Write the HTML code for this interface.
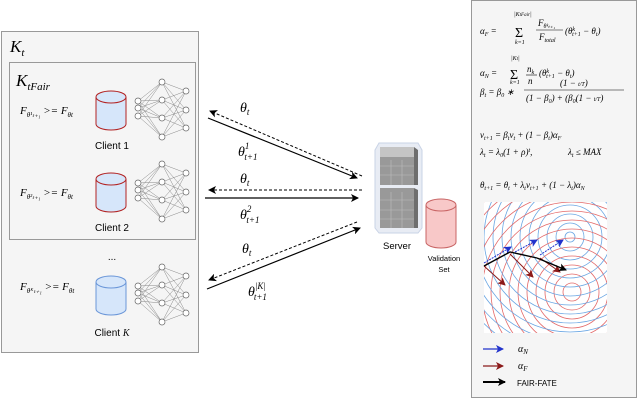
<!DOCTYPE html>
<html><head><meta charset="utf-8"><style>
html,body{margin:0;padding:0;background:#fff;width:640px;height:400px;overflow:hidden;position:relative;}
svg{display:block;position:absolute;left:0;top:0;font-family:"Liberation Sans",sans-serif;overflow:hidden;}
.m{font-family:"Liberation Serif",serif;font-style:italic;}
</style></head><body>
<svg id="s" width="640" height="400" viewBox="0 0 640 400" xmlns="http://www.w3.org/2000/svg">
<defs>
<marker id="ah" markerWidth="8" markerHeight="8" refX="7" refY="4" orient="auto" markerUnits="userSpaceOnUse"><path d="M0,0 L8,4 L0,8 L2,4z" fill="#000"/></marker>
<marker id="ab" markerWidth="8" markerHeight="8" refX="7" refY="4" orient="auto" markerUnits="userSpaceOnUse"><path d="M0,0 L8,4 L0,8 L2,4z" fill="#2233cc"/></marker>
<marker id="ar" markerWidth="8" markerHeight="8" refX="7" refY="4" orient="auto" markerUnits="userSpaceOnUse"><path d="M0,0 L8,4 L0,8 L2,4z" fill="#8b1a1a"/></marker>
<clipPath id="pc"><rect x="484" y="202" width="123" height="131"/></clipPath>
</defs>
<rect x="1.5" y="31.5" width="197" height="321" fill="#f5f5f5" stroke="#999"/>
<rect x="9.5" y="62.5" width="186" height="177" fill="#f5f5f5" stroke="#999"/>
<text x="10" y="52" class="m" font-size="17">K<tspan font-size="11" dy="4">t</tspan></text>
<text x="16" y="86" class="m" font-size="17">K<tspan font-size="11" dy="4">tFair</tspan></text>
<g class="m" font-size="11">
<text x="20" y="114">F<tspan font-size="7" dy="3">θ¹ₜ₊₁</tspan><tspan dy="-3"> &gt;= F</tspan><tspan font-size="7" dy="3">θt</tspan></text>
<text x="20" y="196">F<tspan font-size="7" dy="3">θ²ₜ₊₁</tspan><tspan dy="-3"> &gt;= F</tspan><tspan font-size="7" dy="3">θt</tspan></text>
<text x="20" y="290">F<tspan font-size="7" dy="3">θᴷₜ₊₁</tspan><tspan dy="-3"> &gt;= F</tspan><tspan font-size="7" dy="3">θt</tspan></text>
</g>
<g id="cyls"></g>
<g font-size="10" fill="#000" text-anchor="middle">
<text x="112" y="149">Client 1</text>
<text x="112" y="231">Client 2</text>
<text x="112" y="260">...</text>
<text x="112" y="336">Client <tspan class="m">K</tspan></text>
</g>
<g id="nets" stroke="#888" stroke-width="0.5"></g>
<g stroke="#000" stroke-width="1" fill="none">
<line x1="362" y1="176" x2="210" y2="111" stroke-dasharray="3,2" marker-end="url(#ah)"/>
<line x1="208" y1="118" x2="357" y2="178" stroke-width="1.2" marker-end="url(#ah)"/>
<line x1="362" y1="190" x2="209" y2="190" stroke-dasharray="3,2" marker-end="url(#ah)"/>
<line x1="205" y1="198" x2="358" y2="198" stroke-width="1.2" marker-end="url(#ah)"/>
<line x1="207" y1="289" x2="360" y2="228" stroke-width="1.2" marker-end="url(#ah)"/>
<line x1="357" y1="222" x2="209" y2="280" stroke-dasharray="3,2" marker-end="url(#ah)"/>
</g>
<g class="m" font-size="14">
<text x="240" y="112">θ<tspan font-size="9" dy="3">t</tspan></text>
<text x="238" y="156">θ<tspan font-size="9" dy="-7">1</tspan><tspan font-size="9" dx="-5" dy="11">t+1</tspan></text>
<text x="240" y="183">θ<tspan font-size="9" dy="3">t</tspan></text>
<text x="240" y="219">θ<tspan font-size="9" dy="-7">2</tspan><tspan font-size="9" dx="-5" dy="11">t+1</tspan></text>
<text x="242" y="253">θ<tspan font-size="9" dy="3">t</tspan></text>
<text x="248" y="296">θ<tspan font-size="9" dy="-7">|K|</tspan><tspan font-size="9" dx="-12" dy="11">t+1</tspan></text>
</g>
<path d="M379,143 L418,143 L422,150 L422,228 L418,233 L379,233 L375,228 L375,150z" fill="#e8ecf4" stroke="#c9d3e6"/>
<rect x="380" y="147" width="34" height="38" fill="#999"/>
<rect x="380" y="147" width="34" height="10" fill="#c4c4c4"/>
<rect x="380" y="188" width="34" height="40" fill="#999"/>
<path d="M414,147 L418,150 L418,185 L414,185z M414,188 L418,190 L418,228 L414,228z" fill="#6e6e6e"/>
<g stroke="#bdbdbd" stroke-width="0.6">
<line x1="380" y1="166" x2="414" y2="166"/><line x1="380" y1="175" x2="414" y2="175"/>
<line x1="391" y1="160" x2="391" y2="185"/><line x1="402" y1="160" x2="402" y2="185"/>
<line x1="380" y1="200" x2="414" y2="200"/><line x1="380" y1="210" x2="414" y2="210"/><line x1="380" y1="219" x2="414" y2="219"/>
<line x1="391" y1="192" x2="391" y2="228"/><line x1="402" y1="192" x2="402" y2="228"/>
</g>
<text x="397" y="249" font-size="9.5" text-anchor="middle">Server</text>
<path d="M426,205 L426,242 A15,6 0 0 0 456,242 L456,205" fill="#f8c8c8" stroke="#c86464"/>
<ellipse cx="441" cy="205" rx="15" ry="6" fill="#f8c8c8" stroke="#c86464"/>
<text x="444" y="261" font-size="7.5" text-anchor="middle">Validation</text>
<text x="444" y="272" font-size="7.5" text-anchor="middle">Set</text>
<rect x="471.5" y="0.5" width="165" height="397" fill="#f5f5f5" stroke="#999"/>
<g class="m" font-size="9">
<text x="480" y="34">α<tspan font-size="6" dy="2">F</tspan><tspan dy="-2"> =</tspan></text>
<text x="515" y="37" font-size="14" font-style="normal">Σ</text>
<text x="514" y="16" font-size="6">|K<tspan font-size="5">tFair</tspan>|</text>
<text x="515" y="44" font-size="6">k=1</text>
<text x="538" y="26">F<tspan font-size="6" dy="2">θᵏₜ₊₁</tspan></text>
<line x1="536" y1="30" x2="563" y2="30" stroke="#000" stroke-width="0.6"/>
<text x="539" y="40">F<tspan font-size="6" dy="2">total</tspan></text>
<text x="565" y="34">(θ<tspan font-size="6" dy="-3">k</tspan><tspan font-size="6" dx="-3" dy="5">t+1</tspan><tspan dy="-2"> − θ</tspan><tspan font-size="6" dy="2">t</tspan><tspan dy="-2">)</tspan></text>
<text x="480" y="76">α<tspan font-size="6" dy="2">N</tspan><tspan dy="-2"> =</tspan></text>
<text x="510" y="79" font-size="14" font-style="normal">Σ</text>
<text x="511" y="60" font-size="6">|K<tspan font-size="5">t</tspan>|</text>
<text x="510" y="84" font-size="6">k=1</text>
<text x="527" y="72">n<tspan font-size="6" dy="2">k</tspan></text>
<line x1="526" y1="75" x2="537" y2="75" stroke="#000" stroke-width="0.6"/>
<text x="528" y="84">n</text>
<text x="539" y="76">(θ<tspan font-size="6" dy="-3">k</tspan><tspan font-size="6" dx="-3" dy="5">t+1</tspan><tspan dy="-2"> − θ</tspan><tspan font-size="6" dy="2">t</tspan><tspan dy="-2">)</tspan></text>
<text x="480" y="95">β<tspan font-size="6" dy="2">t</tspan><tspan dy="-2"> = β</tspan><tspan font-size="6" dy="2">0</tspan><tspan dy="-2"> ∗</tspan></text>
<text x="560" y="86">(1 − <tspan font-size="6">t/T</tspan>)</text>
<line x1="524" y1="90" x2="624" y2="90" stroke="#000" stroke-width="0.6"/>
<text x="526" y="101">(1 − β<tspan font-size="6" dy="2">0</tspan><tspan dy="-2">) + (β</tspan><tspan font-size="6" dy="2">0</tspan><tspan dy="-2">(1 − </tspan><tspan font-size="6">t/T</tspan>)</text>
<text x="480" y="138">v<tspan font-size="6" dy="2">t+1</tspan><tspan dy="-2"> = β</tspan><tspan font-size="6" dy="2">t</tspan><tspan dy="-2">v</tspan><tspan font-size="6" dy="2">t</tspan><tspan dy="-2"> + (1 − β</tspan><tspan font-size="6" dy="2">t</tspan><tspan dy="-2">)α</tspan><tspan font-size="6" dy="2">F</tspan></text>
<text x="480" y="155">λ<tspan font-size="6" dy="2">t</tspan><tspan dy="-2"> = λ</tspan><tspan font-size="6" dy="2">0</tspan><tspan dy="-2">(1 + ρ)</tspan><tspan font-size="6" dy="-3">t</tspan><tspan dy="3">,</tspan></text>
<text x="568" y="155">λ<tspan font-size="6" dy="2">t</tspan><tspan dy="-2"> ≤ MAX</tspan></text>
<text x="480" y="188">θ<tspan font-size="6" dy="2">t+1</tspan><tspan dy="-2"> = θ</tspan><tspan font-size="6" dy="2">t</tspan><tspan dy="-2"> + λ</tspan><tspan font-size="6" dy="2">t</tspan><tspan dy="-2">v</tspan><tspan font-size="6" dy="2">t+1</tspan><tspan dy="-2"> + (1 − λ</tspan><tspan font-size="6" dy="2">t</tspan><tspan dy="-2">)α</tspan><tspan font-size="6" dy="2">N</tspan></text>
</g>
<rect x="484" y="202" width="123" height="131" fill="#fff"/>
<g id="rings" clip-path="url(#pc)" fill="none" stroke-width="0.8"></g>
<g fill="none" stroke-width="1">
<line x1="484" y1="263" x2="511" y2="247" stroke="#2233cc" stroke-dasharray="2,1" marker-end="url(#ab)"/>
<line x1="515" y1="252" x2="537" y2="240" stroke="#2233cc" stroke-dasharray="2,1" marker-end="url(#ab)"/>
<line x1="540" y1="255" x2="563" y2="240" stroke="#2233cc" stroke-dasharray="2,1" marker-end="url(#ab)"/>
<line x1="484" y1="266" x2="505" y2="285" stroke="#8b1a1a" marker-end="url(#ar)"/>
<line x1="510" y1="254" x2="533" y2="277" stroke="#8b1a1a" marker-end="url(#ar)"/>
<line x1="540" y1="258" x2="560" y2="272" stroke="#8b1a1a" marker-end="url(#ar)"/>
<polyline points="484,266 510,252 537,258" stroke="#000" stroke-width="1.4"/>
<line x1="537" y1="258" x2="566" y2="270" stroke="#000" stroke-width="1.4" marker-end="url(#ah)"/>
<line x1="483" y1="349" x2="503" y2="349" stroke="#2233cc" stroke-width="1.2" marker-end="url(#ab)"/>
<line x1="483" y1="366" x2="503" y2="366" stroke="#8b1a1a" stroke-width="1.2" marker-end="url(#ar)"/>
<line x1="483" y1="382" x2="505" y2="382" stroke="#000" stroke-width="2" marker-end="url(#ah)"/>
</g>
<text x="518" y="352" class="m" font-size="10">α<tspan font-size="7" dy="2">N</tspan></text>
<text x="518" y="369" class="m" font-size="10">α<tspan font-size="7" dy="2">F</tspan></text>
<text x="517" y="386" font-size="8">FAIR-FATE</text>
</svg>
<script>
var NS="http://www.w3.org/2000/svg";
function el(p,t,a){var e=document.createElementNS(NS,t);for(var k in a)e.setAttribute(k,a[k]);p.appendChild(e);return e;}
var cy=document.getElementById("cyls");
[[90,"#b22222"],[172,"#b22222"],[275,"#6a96d8"]].forEach(function(c){
 var y=c[0];
 el(cy,"path",{d:"M96,"+(y+7)+" L96,"+(y+34)+" A15,6 0 0 0 126,"+(y+34)+" L126,"+(y+7),fill:"#d6e6fa",stroke:c[1]});
 el(cy,"ellipse",{cx:111,cy:y+7,rx:15,ry:6,fill:"#d6e6fa",stroke:c[1]});
});
var nets=document.getElementById("nets");
[0,82,185].forEach(function(o){
 var L=[[[138,101],[138,108],[138,116]],[[162,82],[162,100],[162,118],[162,137]],[[186,91],[186,110],[186,128]]];
 for(var l=0;l<2;l++)L[l].forEach(function(a){L[l+1].forEach(function(b){el(nets,"line",{x1:a[0],y1:a[1]+o,x2:b[0],y2:b[1]+o});});});
 L.forEach(function(ly){ly.forEach(function(n){el(nets,"circle",{cx:n[0],cy:n[1]+o,r:3,fill:"#fff",stroke:"#666","stroke-width":0.7});});});
});
var r=document.getElementById("rings");
for(var i=1;i<20;i++){
 el(r,"circle",{cx:572,cy:292,r:i*9,stroke:"#e36a6a"});
 el(r,"circle",{cx:570,cy:237,r:i*9-4,stroke:"#6aa6e3"});
}
</script>
</body></html>
